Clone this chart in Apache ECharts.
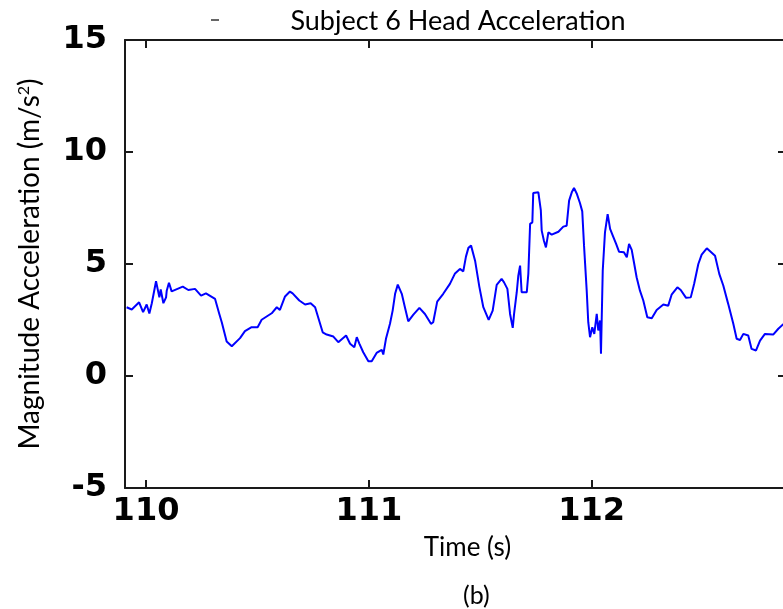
<!DOCTYPE html>
<html>
<head>
<meta charset="utf-8">
<script src="https://cdn.jsdelivr.net/npm/echarts@6/dist/echarts.min.js"></script>
<style>
  html, body { margin: 0; padding: 0; background: #fff; }
  #chart { width: 783px; height: 609px; }
</style>
</head>
<body>
<div id="chart"></div>
<script>
// Head acceleration magnitude, subject 6 (time in s, magnitude in m/s^2)
const timeS = [
  109.913, 109.936, 109.969, 109.987, 110.003, 110.015, 110.026, 110.045, 110.060, 110.066,
  110.078, 110.090, 110.093, 110.103, 110.115, 110.165, 110.190, 110.220, 110.247, 110.269,
  110.310, 110.329, 110.340, 110.362, 110.385, 110.422, 110.444, 110.474, 110.501, 110.519,
  110.564, 110.587, 110.601, 110.624, 110.646, 110.658, 110.688, 110.714, 110.739, 110.759,
  110.793, 110.811, 110.841, 110.863, 110.898, 110.916, 110.935, 110.946, 110.957, 110.975,
  110.998, 111.013, 111.035, 111.058, 111.065, 111.077, 111.095, 111.107, 111.118, 111.130,
  111.148, 111.162, 111.177, 111.200, 111.227, 111.252, 111.279, 111.289, 111.307, 111.334,
  111.364, 111.387, 111.409, 111.424, 111.436, 111.447, 111.459, 111.477, 111.496, 111.514,
  111.538, 111.556, 111.574, 111.596, 111.607, 111.622, 111.634, 111.646, 111.652, 111.664,
  111.671, 111.679, 111.686, 111.709, 111.716, 111.724, 111.734, 111.738, 111.761, 111.772,
  111.776, 111.786, 111.795, 111.806, 111.821, 111.851, 111.873, 111.888, 111.899, 111.911,
  111.921, 111.933, 111.948, 111.958, 111.966, 111.978, 111.985, 111.993, 112.003, 112.012,
  112.023, 112.030, 112.038, 112.042, 112.050, 112.060, 112.072, 112.083, 112.095, 112.110,
  112.123, 112.145, 112.158, 112.168, 112.180, 112.190, 112.202, 112.217, 112.232, 112.250,
  112.270, 112.292, 112.322, 112.344, 112.359, 112.385, 112.400, 112.424, 112.445, 112.460,
  112.479, 112.494, 112.517, 112.554, 112.573, 112.591, 112.613, 112.636, 112.651, 112.666,
  112.681, 112.703, 112.718, 112.738, 112.756, 112.778, 112.815, 112.838, 112.859, 112.880
];
const accel = [
  3.07, 2.97, 3.29, 2.85, 3.19, 2.79, 3.25, 4.23, 3.51, 3.86,
  3.25, 3.51, 3.81, 4.16, 3.78, 3.99, 3.84, 3.89, 3.59, 3.69,
  3.44, 2.77, 2.40, 1.54, 1.33, 1.69, 2.00, 2.18, 2.18, 2.51,
  2.80, 3.07, 2.95, 3.55, 3.77, 3.69, 3.37, 3.19, 3.25, 3.07,
  1.95, 1.85, 1.76, 1.51, 1.81, 1.44, 1.28, 1.73, 1.46, 1.06,
  0.66, 0.66, 1.03, 1.17, 0.96, 1.66, 2.33, 2.92, 3.67, 4.08,
  3.67, 3.07, 2.44, 2.74, 3.04, 2.77, 2.33, 2.40, 3.32, 3.67,
  4.11, 4.58, 4.78, 4.67, 5.33, 5.72, 5.82, 5.15, 3.99, 3.07,
  2.51, 2.92, 4.07, 4.34, 4.18, 3.89, 2.77, 2.15, 2.77, 3.74,
  4.48, 4.93, 3.74, 3.74, 4.56, 6.79, 6.86, 8.17, 8.20, 7.41,
  6.49, 6.04, 5.74, 6.41, 6.31, 6.44, 6.67, 6.71, 7.83, 8.20,
  8.39, 8.15, 7.71, 7.35, 5.82, 3.81, 2.40, 1.73, 2.18, 1.88,
  2.77, 2.03, 2.48, 0.99, 4.71, 6.41, 7.23, 6.57, 6.27, 5.90,
  5.55, 5.52, 5.30, 5.90, 5.63, 5.08, 4.41, 3.81, 3.37, 2.62,
  2.58, 2.95, 3.19, 3.14, 3.63, 3.96, 3.84, 3.49, 3.51, 4.11,
  5.00, 5.42, 5.70, 5.37, 4.56, 4.04, 3.22, 2.33, 1.66, 1.61,
  1.88, 1.81, 1.21, 1.14, 1.58, 1.88, 1.85, 2.11, 2.30, 2.45
];
const xTicks = [110, 111, 112];

const chart = echarts.init(document.getElementById('chart'), null, { renderer: 'canvas' });

const axisLine = { show: true, onZero: false, lineStyle: { color: '#1a1a1a', width: 2 } };
const tickStyle = { show: true, inside: true, length: 8, lineStyle: { color: '#1a1a1a', width: 2 } };
const numFont = { color: '#000', fontFamily: 'DejaVu Sans', fontWeight: 'bold', fontSize: 32 };

const xMin = 109.9057, xMax = 112.8725;

chart.setOption({
  animation: false,
  backgroundColor: '#fff',
  title: {
    text: 'Subject 6 Head Acceleration',
    left: 453, top: 3, textAlign: 'center',
    textStyle: { fontFamily: 'Lato', fontWeight: 'normal', fontSize: 27, color: '#000' }
  },
  grid: { left: 125, top: 40, right: -3, bottom: 121, containLabel: false, outerBoundsMode: 'none' },
  xAxis: [
    {
      type: 'value', position: 'bottom', min: xMin, max: xMax,
      axisLine, splitLine: { show: false },
      axisTick: Object.assign({ customValues: xTicks }, tickStyle),
      axisLabel: Object.assign({ customValues: xTicks, margin: 8, formatter: v => String(v) }, numFont),
      name: 'Time (s)', nameLocation: 'middle', nameGap: 47,
      nameTextStyle: { fontFamily: 'Lato', fontSize: 26, color: '#000', padding: [0, 0, 0, 24] }
    },
    {
      type: 'value', position: 'top', min: xMin, max: xMax,
      axisLine, splitLine: { show: false },
      axisTick: Object.assign({ customValues: xTicks }, tickStyle),
      axisLabel: { show: false }
    }
  ],
  yAxis: [
    {
      type: 'value', position: 'left', min: -5, max: 15, interval: 5,
      axisLine, splitLine: { show: false },
      axisTick: tickStyle,
      axisLabel: Object.assign({ margin: 18 }, numFont),
      name: 'Magnitude Acceleration (m/s{sup|2})', nameLocation: 'middle', nameGap: 81,
      nameTextStyle: {
        fontFamily: 'Lato', fontSize: 28, color: '#000',
        rich: { sup: { fontFamily: 'Lato', fontSize: 16, color: '#000', verticalAlign: 'top', padding: [0, 0, 12, 0] } }
      }
    },
    {
      type: 'value', position: 'right', min: -5, max: 15, interval: 5,
      axisLine, splitLine: { show: false },
      axisTick: tickStyle,
      axisLabel: { show: false }
    }
  ],
  graphic: [
    {
      type: 'text', left: 463, top: 583,
      style: { text: '(b)', fontFamily: 'Lato', fontSize: 25, fill: '#000' }
    },
    {
      type: 'line', shape: { x1: 211, y1: 20, x2: 219, y2: 20 },
      style: { stroke: '#333', lineWidth: 1.5 }
    }
  ],
  series: [{
    type: 'line',
    xAxisIndex: 0, yAxisIndex: 0,
    data: timeS.map((t, i) => [t, accel[i]]),
    showSymbol: false,
    lineStyle: { color: '#0000ff', width: 2 },
    itemStyle: { color: '#0000ff' },
    clip: true
  }]
});
</script>
</body>
</html>
